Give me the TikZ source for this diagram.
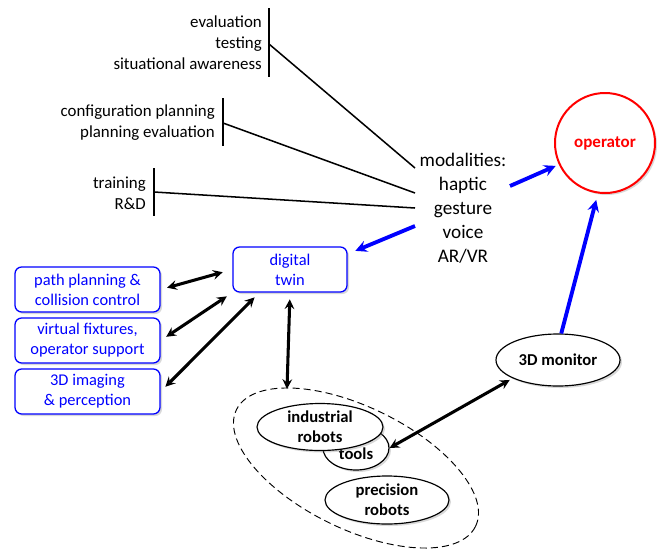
\documentclass[tikz,border=0pt]{standalone}
\usepackage{fontspec}
\setmainfont{Carlito}
\usetikzlibrary{arrows,shapes.geometric,shadows}

\begin{document}
\begin{tikzpicture}[>=stealth, x=0.03cm, y=-0.03cm]
	\tikzstyle{uses} = [align=right, anchor=east, inner sep=0pt, font=\fontsize{14.4}{17.9}\selectfont]
	\tikzstyle{bar} = [line width=1.7pt]
	\tikzstyle{feed} = [line width=1.3pt]
	\tikzstyle{soft} = [drop shadow={opacity=0.3, shadow xshift=0.6mm, shadow yshift=-0.6mm}]
	\tikzstyle{bluebox} = [draw=blue, text=blue, fill=white, rounded corners=2mm, line width=1.1pt, minimum height=1.35cm, align=center, inner sep=0pt, font=\fontsize{14}{17}\selectfont, soft]
	\tikzstyle{blob} = [draw, ellipse, fill=white, line width=1pt, inner xsep=0pt, inner ysep=-4pt, align=center, font=\bfseries\fontsize{14.2}{17}\selectfont, soft]
	\tikzstyle{link} = [<->, line width=2.6pt]
	\tikzstyle{bluelink} = [->, blue, line width=3.3pt]

	\useasboundingbox (0,0) rectangle (667,549);

	% fields of application
	\node[uses] (ev) at (262,43) {evaluation\\testing\\situational awareness};
	\node[uses] (cfg) at (215,123) {configuration planning\\planning evaluation};
	\node[uses] (trn) at (146,193) {training\\R\&D};
	\draw[bar] (269,8) -- (269,77);
	\draw[bar] (223,98) -- (223,146);
	\draw[bar] (154,168) -- (154,216);
	\coordinate (evb) at (269,44);
	\coordinate (cfgb) at (223,123);
	\coordinate (trnb) at (154,192);

	% interface
	\node[align=center, inner sep=0pt, font=\fontsize{16.4}{20.5}\selectfont] (mod) at (463,208) {modalities:\\haptic\\gesture\\voice\\AR/VR};
	\coordinate (m1) at (415,168);
	\coordinate (m2) at (415,193);
	\coordinate (m3) at (415,208);
	\coordinate (m4) at (415,226);
	\coordinate (m5) at (510,186);
	\node[circle, draw=red, line width=1.7pt, fill=white, text=red, minimum size=3cm, inner sep=0pt, font=\bfseries\fontsize{14.5}{16}\selectfont, soft] (op) at (605,143) {operator};

	% simulation side
	\node[bluebox, minimum width=3.42cm] (twin) at (290,269.5) {digital\\twin};
	\node[bluebox, minimum width=4.35cm] (pp) at (87.5,289.5) {path planning \&\\collision control};
	\node[bluebox, minimum width=4.35cm] (vf) at (87.5,340.5) {virtual fixtures,\\operator support};
	\node[bluebox, minimum width=4.35cm] (img) at (87.5,391.5) {3D imaging\\\& perception};

	% hardware
	\node[ellipse, draw, dash pattern=on 6pt off 3.5pt, line width=0.8pt, minimum width=7.98cm, minimum height=3.66cm, rotate=-26] (grp) at (356,468) {};
	\coordinate (gtop) at (287,389);
	\node[blob, minimum width=1.98cm, minimum height=1.32cm] (tools) at (356,448) {\\[2pt]tools};
	\node[blob, minimum width=3.78cm, minimum height=1.41cm] (ind) at (320,427) {industrial\\robots};
	\node[blob, minimum width=3.72cm, minimum height=1.44cm] (prec) at (387,500) {precision\\robots};
	\node[blob, minimum width=3.72cm, minimum height=1.56cm] (mon) at (558,360) {3D monitor};

	\path[feed]
	(evb) edge (m1)
	(cfgb) edge (m2)
	(trnb) edge (m3);

	\path[bluelink]
	(m5) edge[shorten >=1mm] (op.205)
	(m4) edge[shorten >=2.5mm] (twin.15)
	(mon.83) edge[shorten >=2mm] (op.262);

	\path[link]
	(pp.east) edge[shorten <=2mm, shorten >=3mm] (twin.west)
	(vf.east) edge[shorten <=2mm, shorten >=2mm] (twin.south west)
	(img.east) edge[shorten <=2mm, shorten >=2mm] (twin.217)
	(twin.south) edge[shorten <=2mm] (gtop)
	(tools.east) edge[shorten >=1mm] (mon.202);
\end{tikzpicture}
\end{document}
